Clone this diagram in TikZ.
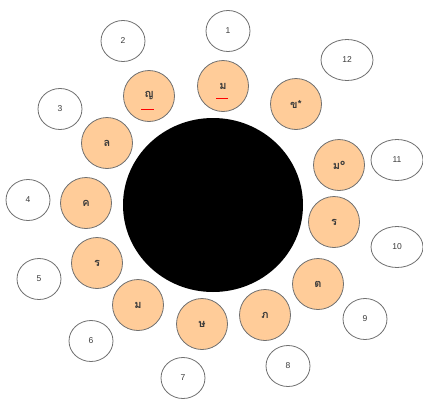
\documentclass[tikz,border=0pt]{standalone}
\usepackage{fontspec}
\setmainfont{Liberation Sans}
\newfontfamily\thaifont[Script=Thai]{Loma}
\usetikzlibrary{shapes.geometric}
\definecolor{peach}{HTML}{FFCC99}
\definecolor{rimgray}{HTML}{707070}
\definecolor{inkgray}{HTML}{3A3A3A}
\tikzset{
  month/.style={circle, draw=rimgray, line width=0.8pt, fill=peach, minimum size=51pt, inner sep=0pt, text=inkgray, font=\thaifont\bfseries\fontsize{11}{11}\selectfont},
  numb/.style={ellipse, draw=rimgray, line width=0.8pt, fill=white, minimum width=44pt, minimum height=41pt, inner sep=0pt, text=inkgray, font=\fontsize{8.5}{9}\selectfont},
  wide/.style={minimum width=52pt},
  squig/.style={red, line width=0.7pt}
}
\newcommand{\lowtxt}[1]{\raisebox{-3.5pt}{#1}}
\begin{document}
\begin{tikzpicture}[x=1pt,y=-1pt]
\useasboundingbox (0,0) rectangle (423,399);
\node[ellipse, fill=black, minimum width=180pt, minimum height=174pt, inner sep=0pt] (hub) at (213,205) {};
% month circles
\node[month] (m1) at (223,86) {\lowtxt{ม}};
\node[month] (m2) at (149,96) {\lowtxt{ญ}};
\node[month] (m3) at (107,143) {\lowtxt{ล}};
\node[month] (m4) at (86,203) {\lowtxt{ค}};
\node[month] (m5) at (97,263) {\lowtxt{ร}};
\node[month] (m6) at (138,305) {\lowtxt{ม}};
\node[month] (m7) at (202,324) {\lowtxt{ษ}};
\node[month] (m8) at (265,315) {\lowtxt{ภ}};
\node[month] (m9) at (318,284) {\lowtxt{ต}};
\node[month] (m10) at (334,222) {\lowtxt{ร}};
\node[month] (m11) at (339,165) {\lowtxt{ม°}};
\node[month] (m12) at (296,104) {\lowtxt{ข*}};
% red underlines
\draw[squig] (216,98.5) -- (228,98.5);
\draw[squig] (141,109.5) -- (154,109.5);
% number circles
\node[numb] (n1) at (228,31) {1};
\node[numb] (n2) at (123,41) {2};
\node[numb] (n3) at (60,109) {3};
\node[numb] (n4) at (28,200) {4};
\node[numb] (n5) at (39,279) {5};
\node[numb] (n6) at (91,341) {6};
\node[numb] (n7) at (183,378) {7};
\node[numb] (n8) at (288,366) {8};
\node[numb] (n9) at (365,319) {9};
\node[numb,wide] (n10) at (397,247) {10};
\node[numb,wide] (n11) at (397,160) {11};
\node[numb,wide] (n12) at (347,60) {12};
\end{tikzpicture}
\end{document}
